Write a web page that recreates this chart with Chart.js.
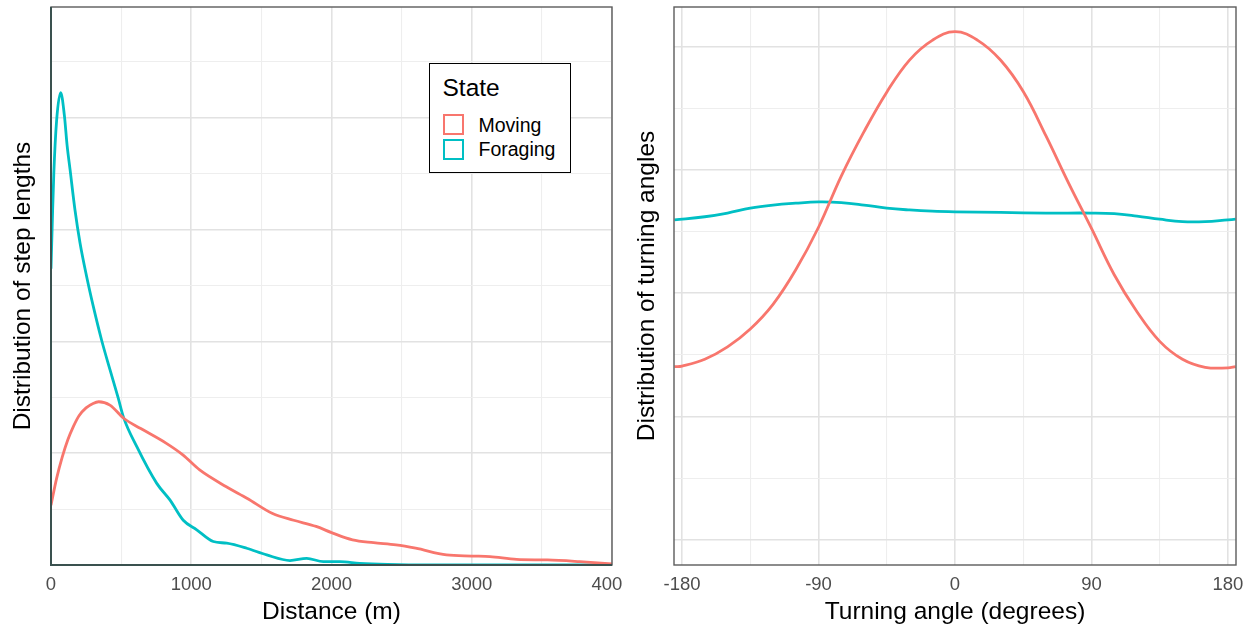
<!DOCTYPE html>
<html lang="en">
<head>
<meta charset="UTF-8">
<title>Step lengths and turning angles by state</title>
<script src="https://cdn.jsdelivr.net/npm/chart.js"></script>
<style>
  body { margin: 0; background: #fff; font-family: "Liberation Sans", Arial, sans-serif; }
  #wrap { position: relative; width: 1255px; height: 628px; overflow: hidden; }
  .panel { position: absolute; top: 0; height: 628px; }
  #left { left: 0; width: 622px; }
  #right { left: 622px; width: 633px; }
  .legend {
    position: absolute; left: 429px; top: 63px; width: 142px; height: 110px;
    box-sizing: border-box; border: 1.5px solid #000; background: #fff;
  }
  .legend span { position: absolute; line-height: 1; transform: translateY(-50%); color: #000; white-space: nowrap; }
  .legend .ttl { left: 12.5px; top: 24px; font-size: 24.5px; }
  .legend .lab { left: 48.5px; font-size: 19.5px; }
  .legend .key { position: absolute; left: 12.5px; width: 21px; height: 21px; box-sizing: border-box; border: 2.5px solid; }
</style>
</head>
<body>
<div id="wrap">
  <div class="panel" id="left"><canvas id="stepChart"></canvas></div>
  <div class="panel" id="right"><canvas id="angleChart"></canvas></div>
  <div class="legend">
    <span class="ttl">State</span>
    <div class="key" id="keyMoving" style="top: 49.5px;"></div>
    <span class="lab" style="top: 61.5px;">Moving</span>
    <div class="key" id="keyForaging" style="top: 74.5px;"></div>
    <span class="lab" style="top: 86px;">Foraging</span>
  </div>
</div>
<script>
// step length densities (distance in m, density in grid units)
const moveDist = [0, 40, 80, 120, 160, 200, 250, 300, 340, 420, 520, 640, 820, 940, 1060, 1250, 1400, 1580, 1730, 1890, 2000, 2150, 2300, 2460, 2600, 2820, 3000, 3130, 3320, 3540, 3770, 4000];
const moveStep = [1.07, 1.55, 1.93, 2.24, 2.48, 2.67, 2.81, 2.89, 2.92, 2.86, 2.62, 2.44, 2.18, 1.97, 1.70, 1.40, 1.19, 0.92, 0.80, 0.69, 0.58, 0.45, 0.40, 0.36, 0.30, 0.18, 0.16, 0.15, 0.10, 0.09, 0.06, 0.02];
const forageDist = [0, 10, 20, 40, 69, 95, 115, 136, 171, 207, 254, 302, 361, 421, 480, 516, 611, 754, 849, 943, 1039, 1157, 1253, 1395, 1538, 1704, 1823, 1942, 2060, 2200, 2400, 2700, 3000, 4000];
const forageStep = [5.3, 6.2, 7.0, 7.95, 8.45, 8.05, 7.5, 7.07, 6.35, 5.76, 5.16, 4.62, 4.02, 3.49, 2.98, 2.65, 2.12, 1.46, 1.16, 0.80, 0.63, 0.42, 0.39, 0.30, 0.18, 0.08, 0.12, 0.06, 0.06, 0.03, 0.01, 0, 0, 0];

// turning angle densities (degrees)
const moveAngle = [-185, -180, -165, -150, -135, -120, -105, -90, -75, -60, -45, -30, -15, 0, 15, 30, 45, 60, 75, 90, 105, 120, 135, 150, 165, 180, 185];
const moveTurn = [2.81, 2.82, 2.93, 3.13, 3.42, 3.82, 4.38, 5.07, 5.90, 6.62, 7.26, 7.78, 8.10, 8.24, 8.10, 7.78, 7.27, 6.55, 5.78, 5.05, 4.30, 3.70, 3.22, 2.93, 2.80, 2.79, 2.81];
const forageAngle = [-185, -165, -150, -135, -120, -105, -90, -75, -60, -45, -30, -15, 0, 30, 60, 90, 105, 120, 135, 150, 165, 180, 185];
const forageTurn = [5.19, 5.24, 5.30, 5.38, 5.43, 5.46, 5.48, 5.47, 5.43, 5.38, 5.35, 5.33, 5.32, 5.31, 5.30, 5.30, 5.29, 5.25, 5.20, 5.16, 5.16, 5.19, 5.20];

// grid / tick positions
const distGrid = [0, 500, 1000, 1500, 2000, 2500, 3000, 3500, 4000];
const angleGrid = [-180, -135, -90, -45, 0, 45, 90, 135, 180];
const stepGrid = [0, 1, 2, 3, 4, 5, 6, 7, 8, 9];
const turnGrid = [0, 1, 2, 3, 4, 5, 6, 7, 8];

const RED = '#F8766D';
const TEAL = '#00BFC4';
document.getElementById('keyMoving').style.borderColor = RED;
document.getElementById('keyForaging').style.borderColor = TEAL;

const FONT = '"Liberation Sans", Arial, sans-serif';

const framePlugin = {
  id: 'frame',
  afterDatasetsDraw(chart, args, opts) {
    const { ctx, chartArea: a } = chart;
    ctx.save();
    ctx.strokeStyle = opts.color;
    ctx.lineWidth = opts.width;
    ctx.strokeRect(a.left, a.top, a.right - a.left, a.bottom - a.top);
    if (opts.axisColor) {
      ctx.strokeStyle = opts.axisColor;
      ctx.lineWidth = opts.axisWidth;
      ctx.beginPath();
      ctx.moveTo(a.left, a.top);
      ctx.lineTo(a.left, a.bottom);
      ctx.lineTo(a.right, a.bottom);
      ctx.stroke();
    }
    ctx.restore();
  }
};

function pts(xs, ys) {
  return xs.map((x, i) => ({ x: x, y: ys[i] }));
}

function line(label, data, color, smooth) {
  const ds = {
    label: label, data: data, borderColor: color, backgroundColor: color,
    borderWidth: 2.8, pointRadius: 0, fill: false
  };
  if (smooth) ds.tension = 0.4;
  else ds.cubicInterpolationMode = 'monotone';
  return ds;
}

function makePanel(id, c) {
  return new Chart(document.getElementById(id), {
    type: 'line',
    data: {
      datasets: [
        line('Moving', c.moving, RED, c.smooth),
        line('Foraging', c.foraging, TEAL, c.smooth)
      ]
    },
    plugins: [framePlugin],
    options: {
      responsive: true,
      maintainAspectRatio: false,
      animation: false,
      layout: { padding: { top: 7, right: c.padRight, bottom: 0, left: 0 } },
      plugins: {
        legend: { display: false },
        tooltip: { enabled: false },
        frame: { color: '#5c5c5c', width: 1.4, axisColor: c.axisColor, axisWidth: 2 }
      },
      scales: {
        x: {
          type: 'linear',
          min: c.xMin, max: c.xMax,
          afterBuildTicks: s => { s.ticks = c.xGrid.map(v => ({ value: v })); },
          afterFit: s => { s.height = 63; s.paddingLeft = 0; s.paddingRight = 0; },
          border: { display: false },
          grid: {
            drawTicks: false,
            color: ctx => c.xMajor(ctx.tick.value) ? '#e2e2e2' : '#eeeeee',
            lineWidth: ctx => c.xMajor(ctx.tick.value) ? 1.6 : 1.1
          },
          ticks: {
            autoSkip: false, maxRotation: 0, padding: 9, color: '#4d4d4d',
            font: { family: FONT, size: 18.5 },
            callback: v => c.xMajor(v) ? String(v) : ''
          },
          title: {
            display: true, text: c.xTitle, color: '#000',
            font: { family: FONT, size: 24.5 },
            padding: { top: 0, bottom: 1.3 }
          }
        },
        y: {
          type: 'linear',
          min: c.yMin, max: c.yMax,
          afterBuildTicks: s => { s.ticks = c.yGrid.map(v => ({ value: v })); },
          afterFit: s => { s.width = c.yWidth; },
          border: { display: false },
          grid: {
            drawTicks: false,
            color: ctx => ctx.tick.value % 2 === 0 ? '#e2e2e2' : '#eeeeee',
            lineWidth: ctx => ctx.tick.value % 2 === 0 ? 1.6 : 1.1
          },
          ticks: { display: false },
          title: {
            display: true, text: c.yTitle, color: '#000',
            font: { family: FONT, size: 24.5 },
            padding: { top: c.yTitlePad, bottom: 0 }
          }
        }
      }
    }
  });
}

makePanel('stepChart', {
  moving: pts(moveDist, moveStep),
  foraging: pts(forageDist, forageStep),
  xMin: 0, xMax: 4000, xGrid: distGrid, xMajor: v => v % 1000 === 0,
  yMin: 0, yMax: 9.98, yGrid: stepGrid,
  xTitle: 'Distance (m)', yTitle: 'Distribution of step lengths',
  padRight: 10, yWidth: 51, yTitlePad: 9, axisColor: '#3a514f', smooth: false
});

makePanel('angleChart', {
  moving: pts(moveAngle, moveTurn),
  foraging: pts(forageAngle, forageTurn),
  xMin: -185.3, xMax: 185.3, xGrid: angleGrid, xMajor: v => v % 90 === 0,
  yMin: -0.405, yMax: 8.64, yGrid: turnGrid,
  xTitle: 'Turning angle (degrees)', yTitle: 'Distribution of turning angles',
  padRight: 19, yWidth: 52, yTitlePad: 10.8, axisColor: null, smooth: true
});
</script>
</body>
</html>
